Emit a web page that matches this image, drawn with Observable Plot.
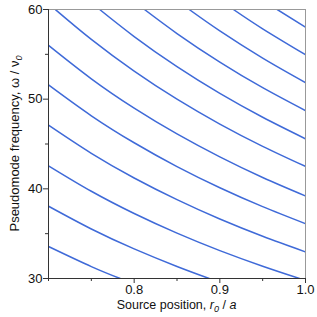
<!DOCTYPE html>
<html><head><meta charset="utf-8">
<script src="https://cdn.jsdelivr.net/npm/d3@7"></script>
<script src="https://cdn.jsdelivr.net/npm/@observablehq/plot@0.6"></script>
<style>body{margin:0;background:#fff;} svg{font-family:"Liberation Sans",Arial,sans-serif;}</style>
</head><body><div id="chart"></div>
<script>
// Pseudomode branches: [source position r0/a, frequency ω/ν0]
const c1  = [[0.70,33.57],[0.75,31.33],[0.7837,30.0]];
const c2  = [[0.70,38.06],[0.75,35.52],[0.80,33.30],[0.85,31.34],[0.8876,30.0]];
const c3  = [[0.70,42.57],[0.75,39.73],[0.80,37.25],[0.85,35.06],[0.90,33.11],[0.95,31.37],[0.993,30.0]];
const c4  = [[0.70,47.10],[0.75,43.96],[0.80,41.21],[0.85,38.79],[0.90,36.63],[0.95,34.71],[1.00,32.97]];
const c5  = [[0.70,51.59],[0.75,48.15],[0.80,45.14],[0.85,42.48],[0.90,40.12],[0.95,38.01],[1.00,36.11]];
const c6  = [[0.70,56.00],[0.75,52.27],[0.80,49.00],[0.85,46.12],[0.90,43.56],[0.95,41.26],[1.00,39.20]];
const c7  = [[0.708,60.0],[0.75,56.67],[0.80,53.13],[0.85,50.00],[0.90,47.22],[0.95,44.74],[1.00,42.50]];
const c8  = [[0.7597,60.0],[0.80,56.98],[0.85,53.62],[0.90,50.64],[0.95,47.98],[1.00,45.58]];
const c9  = [[0.812,60.0],[0.85,57.32],[0.90,54.13],[0.95,51.28],[1.00,48.72]];
const c10 = [[0.8642,60.0],[0.90,57.61],[0.95,54.58],[1.00,51.85]];
const c11 = [[0.9158,60.0],[0.95,57.84],[1.00,54.95]];
const c12 = [[0.967,60.0],[1.00,58.02]];
const curves = [c1,c2,c3,c4,c5,c6,c7,c8,c9,c10,c11,c12];
const xMajor = [0.8, 0.9, 1.0];
const xMinor = [0.7, 0.75, 0.85, 0.95];
const yMajor = [30, 40, 50, 60];
const yMinor = [35, 45, 55];

const rows = curves.flatMap((c, i) => c.map(([x, y]) => ({branch: i, x, y})));

const W = 317, H = 317;
const svg = Plot.plot({
  width: W, height: H,
  marginLeft: 48, marginRight: 12, marginTop: 9, marginBottom: 39,
  style: {fontFamily: '"Liberation Sans", Arial, sans-serif', fontSize: "12px", color: "#111", background: "#fff"},
  x: {domain: [0.7, 1.0]},
  y: {domain: [30, 60]},
  marks: [
    Plot.line(rows, {x: "x", y: "y", z: "branch", stroke: "#3f6ad8", strokeWidth: 1.5, curve: "natural", clip: true}),
    Plot.frame({stroke: "#999", strokeWidth: 1}),
    Plot.ruleX([0.7], {stroke: "#333", strokeWidth: 1}),
    Plot.ruleY([30], {stroke: "#333", strokeWidth: 1}),
    Plot.axisX({ticks: xMajor, tickSize: 5, tickPadding: 1, tickFormat: d3.format(".1f"), label: null, fontSize: 13, stroke: "#333"}),
    Plot.axisX({ticks: xMinor, tickSize: 3, text: null, label: null, stroke: "#333"}),
    Plot.axisY({ticks: yMajor, tickSize: 5, tickPadding: 1, label: null, fontSize: 13, stroke: "#333"}),
    Plot.axisY({ticks: yMinor, tickSize: 3, text: null, label: null, stroke: "#333"})
  ]
});

const s = d3.select(svg);
const cx = (48 + (W - 12)) / 2;
const xl = s.append("text").attr("x", cx).attr("y", 309).attr("text-anchor", "middle")
  .attr("font-size", 12.5).attr("fill", "#111");
xl.append("tspan").text("Source position, ");
xl.append("tspan").attr("font-style", "italic").text("r");
xl.append("tspan").attr("font-style", "italic").attr("font-size", 9).attr("dy", 3).text("0");
xl.append("tspan").attr("dy", -3).text(" / ");
xl.append("tspan").attr("font-style", "italic").text("a");

const cy = (9 + (H - 39)) / 2;
const yl = s.append("text").attr("transform", `translate(19,${cy}) rotate(-90)`).attr("text-anchor", "middle")
  .attr("font-size", 13).attr("fill", "#111");
yl.append("tspan").text("Pseudomode frequency, ω / ν");
yl.append("tspan").attr("font-style", "italic").attr("font-size", 9).attr("dy", 3).text("0");

document.getElementById("chart").appendChild(svg);
</script></body></html>
